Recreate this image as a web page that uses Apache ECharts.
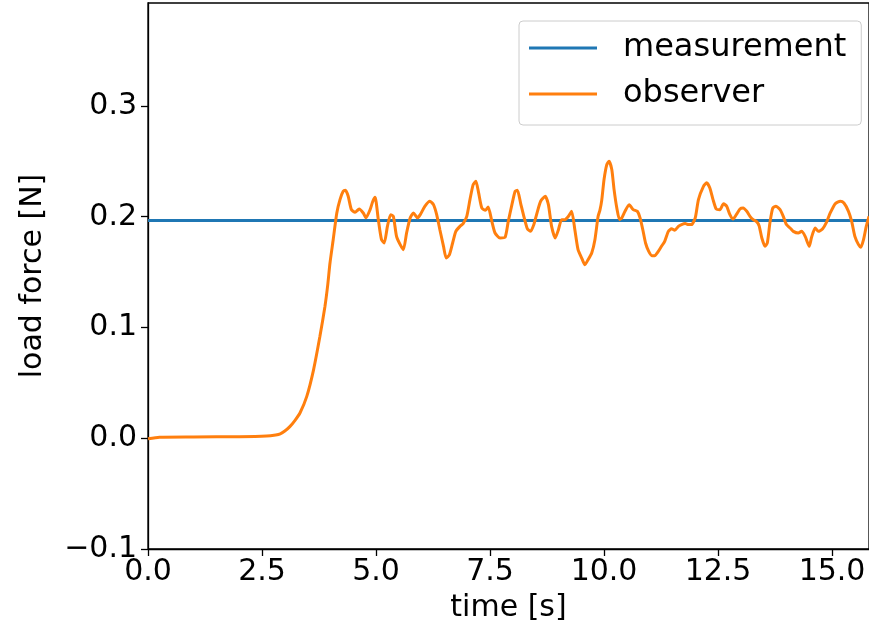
<!DOCTYPE html>
<html>
<head>
<meta charset="utf-8">
<script src="https://cdn.jsdelivr.net/npm/echarts@6/dist/echarts.min.js"></script>
<style>
	html, body { margin: 0; padding: 0; background: #fff; }
	#myChart { width: 869px; height: 639px; }
</style>
</head>
<body>
<div id="myChart"></div>
<script>
// measurement: constant load force
var measTime = [0, 15.81];
var measForce = [0.1965, 0.1965];

// observer estimate
var obsTime = [
	0.00, 0.25, 1.00, 2.00, 2.60, 2.80, 2.90, 3.00, 3.11, 3.22, 3.33, 3.48, 3.63, 3.77, 3.88, 3.94,
	3.99, 4.06, 4.14, 4.21, 4.28, 4.33, 4.39, 4.46, 4.54, 4.63, 4.72, 4.78, 4.87, 4.93, 4.98,
	5.05, 5.12, 5.18, 5.25, 5.32, 5.38, 5.45, 5.53, 5.60, 5.67, 5.75, 5.82, 5.91, 5.97,
	6.07, 6.18, 6.26, 6.33, 6.40, 6.48, 6.54, 6.61, 6.68, 6.75, 6.84, 6.91, 6.99,
	7.06, 7.13, 7.19, 7.25, 7.32, 7.40, 7.46, 7.54, 7.61, 7.72, 7.83, 7.90, 7.98,
	8.05, 8.10, 8.17, 8.25, 8.32, 8.39, 8.46, 8.54, 8.61, 8.71, 8.78, 8.85, 8.93,
	9.00, 9.07, 9.14, 9.22, 9.29, 9.36, 9.43, 9.51, 9.58, 9.65, 9.73, 9.80, 9.87, 9.91, 9.95,
	10.00, 10.06, 10.11, 10.17, 10.22, 10.28, 10.34, 10.39, 10.46, 10.55, 10.64, 10.73, 10.79, 10.85, 10.91, 10.98,
	11.05, 11.11, 11.19, 11.26, 11.33, 11.41, 11.48, 11.55, 11.63, 11.70, 11.78, 11.85, 11.92,
	12.00, 12.07, 12.18, 12.25, 12.32, 12.39, 12.46, 12.54, 12.62, 12.69, 12.76, 12.83, 12.90, 12.98,
	13.05, 13.13, 13.20, 13.27, 13.34, 13.40, 13.46, 13.53, 13.58, 13.64, 13.70, 13.77, 13.86, 13.93,
	14.00, 14.08, 14.15, 14.26, 14.33, 14.41, 14.50, 14.55, 14.63, 14.70, 14.79, 14.88, 14.96,
	15.07, 15.18, 15.26, 15.36, 15.43, 15.50, 15.58, 15.63, 15.69, 15.75, 15.81
];
var obsForce = [
	-0.0005, 0.0010, 0.0012, 0.0014, 0.0020, 0.0030, 0.0040, 0.0065, 0.0105, 0.0160, 0.0226, 0.0376, 0.0618, 0.0920, 0.1190, 0.1380,
	0.1580, 0.1790, 0.2034, 0.2155, 0.2230, 0.2239, 0.2185, 0.2064, 0.2040, 0.2070, 0.2034, 0.1990, 0.2064, 0.2140, 0.2176,
	0.1974, 0.1793, 0.1763, 0.1913, 0.2019, 0.2004, 0.1823, 0.1748, 0.1703, 0.1853, 0.1990, 0.2034, 0.1990, 0.2019,
	0.2094, 0.2140, 0.2109, 0.2019, 0.1883, 0.1733, 0.1627, 0.1657, 0.1763, 0.1868, 0.1913, 0.1938, 0.2004,
	0.2155, 0.2290, 0.2320, 0.2215, 0.2079, 0.2058, 0.2088, 0.1958, 0.1853, 0.1808, 0.1814, 0.1958, 0.2109,
	0.2230, 0.2239, 0.2124, 0.1990, 0.1890, 0.1868, 0.1929, 0.2049, 0.2140, 0.2185, 0.2109, 0.1913, 0.1808,
	0.1883, 0.1974, 0.1974, 0.2004, 0.2049, 0.1883, 0.1703, 0.1627, 0.1567, 0.1612, 0.1673, 0.1793, 0.2004, 0.2060, 0.2150,
	0.2336, 0.2471, 0.2501, 0.2426, 0.2245, 0.2079, 0.1974, 0.1990, 0.2049, 0.2109, 0.2064, 0.2049, 0.1990, 0.1883, 0.1763, 0.1687,
	0.1648, 0.1648, 0.1687, 0.1733, 0.1778, 0.1868, 0.1892, 0.1877, 0.1913, 0.1929, 0.1938, 0.1929, 0.1929,
	0.1990, 0.2155, 0.2275, 0.2306, 0.2260, 0.2155, 0.2070, 0.2064, 0.2118, 0.2094, 0.2019, 0.1979, 0.2019, 0.2070,
	0.2079, 0.2049, 0.2004, 0.1974, 0.1958, 0.1919, 0.1808, 0.1733, 0.1763, 0.1952, 0.2079, 0.2094, 0.2064, 0.2004,
	0.1929, 0.1898, 0.1868, 0.1853, 0.1868, 0.1823, 0.1733, 0.1814, 0.1898, 0.1868, 0.1890, 0.1952, 0.2034,
	0.2118, 0.2140, 0.2124, 0.2049, 0.1958, 0.1823, 0.1748, 0.1724, 0.1793, 0.1913, 0.2004
];

var seriesNames = ['measurement', 'observer'];
var seriesColors = ['#1f77b4', '#ff7f0e'];

function pairs(xs, ys) {
	var out = [];
	for (var i = 0; i < xs.length; i++) {
		out.push([xs[i], ys[i]]);
	}
	return out;
}

function fmt(v) {
	var s = Math.abs(v).toFixed(1);
	return v < -1e-9 ? '\u2212' + s : s;
}

var font = 'DejaVu Sans';
var fs = 30;

var option = {
	animation: false,
	textStyle: { fontFamily: font },
	grid: {
		left: 148, right: 0, top: 3, bottom: 90,
		show: true, borderColor: '#000', borderWidth: 1.3
	},
	legend: {
		orient: 'vertical',
		left: 519, top: 21,
		padding: [9, 15, 13, 10],
		itemGap: 10,
		itemWidth: 68, itemHeight: 3,
		icon: 'rect',
		backgroundColor: 'rgba(255,255,255,0.8)',
		borderColor: '#cccccc', borderWidth: 1, borderRadius: 4,
		textStyle: { fontFamily: font, fontSize: 32, color: '#000', lineHeight: 36, padding: [0, 0, 0, 21] },
		data: seriesNames
	},
	xAxis: {
		type: 'value',
		min: 0, max: 15.81, interval: 2.5,
		name: 'time [s]',
		nameLocation: 'middle',
		nameGap: 44,
		nameTextStyle: { fontFamily: font, fontSize: fs, color: '#000' },
		axisLine: { show: true, onZero: false, lineStyle: { color: '#000', width: 1.3 } },
		axisTick: { show: true, length: 7, lineStyle: { color: '#000', width: 1.3 } },
		axisLabel: {
			fontFamily: font, fontSize: fs, color: '#000', margin: 8,
			showMaxLabel: false,
			formatter: fmt
		},
		splitLine: { show: false }
	},
	yAxis: {
		type: 'value',
		min: -0.1, max: 0.393, interval: 0.1,
		name: 'load force [N]',
		nameLocation: 'middle',
		nameGap: 100,
		nameTextStyle: { fontFamily: font, fontSize: fs, color: '#000' },
		axisLine: { show: true, onZero: false, lineStyle: { color: '#000', width: 1.3 } },
		axisTick: { show: true, length: 7, lineStyle: { color: '#000', width: 1.3 } },
		axisLabel: {
			fontFamily: font, fontSize: fs, color: '#000', margin: 11,
			showMaxLabel: false,
			formatter: fmt
		},
		splitLine: { show: false }
	},
	series: [
		{
			name: seriesNames[0],
			type: 'line',
			showSymbol: false, symbol: 'none',
			color: seriesColors[0],
			lineStyle: { width: 3, color: seriesColors[0] },
			data: pairs(measTime, measForce)
		},
		{
			name: seriesNames[1],
			type: 'line',
			showSymbol: false, symbol: 'none',
			color: seriesColors[1],
			smooth: 0.2,
			lineStyle: { width: 3, color: seriesColors[1] },
			data: pairs(obsTime, obsForce)
		}
	]
};

var myChart = echarts.init(document.getElementById('myChart'));
myChart.setOption(option);
</script>
</body>
</html>
